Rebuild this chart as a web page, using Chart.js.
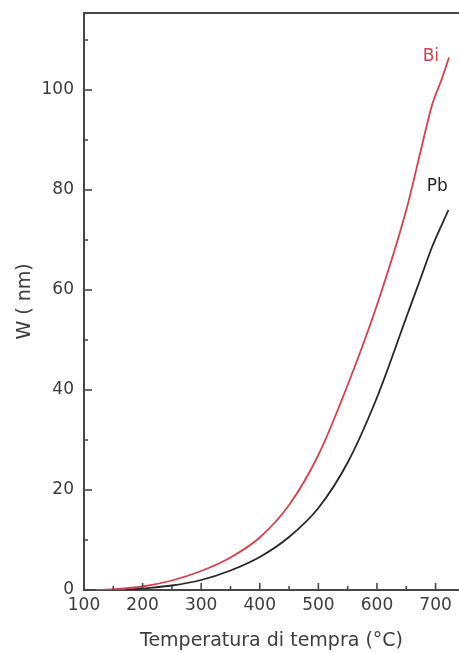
<!DOCTYPE html>
<html><head><meta charset="utf-8">
<script src="https://cdn.jsdelivr.net/npm/chart.js@4/dist/chart.umd.min.js"></script>
<style>html,body{margin:0;padding:0;background:#fff;} canvas{display:block;}</style>
</head><body>
<canvas id="c" width="459" height="653"></canvas>
<script>
const biTemps  = [120, 150, 200, 250, 300, 350, 400, 450, 500, 550, 600, 650, 675, 694, 710, 723];
const biWidths = [0, 0.15, 0.7, 1.9, 3.8, 6.5, 10.5, 17, 27, 41, 57, 76, 88, 97, 102, 106.5];
const pbTemps  = [170, 200, 250, 300, 350, 400, 450, 500, 550, 600, 650, 675, 694, 722];
const pbWidths = [0, 0.3, 0.9, 2.0, 3.9, 6.6, 10.6, 16.4, 25.5, 38.5, 54.5, 62.5, 68.6, 76];
const xMajorTicks = [100, 200, 300, 400, 500, 600, 700];
const xMinorTicks = [150, 250, 350, 450, 550, 650];
const yMajorTicks = [0, 20, 40, 60, 80, 100];
const yMinorTicks = [10, 30, 50, 70, 90, 110];
const seriesNames = ['Bi', 'Pb'];
const xTitle = 'Temperatura di tempra (°C)';
const yTitle = 'W ( nm)';

const FONT = 'DejaVu Sans';
const TEXT = '#3c3c3c';
const AXIS = '#474747';
const RED = '#d8404c';
const BLACK = '#262626';

const toPts = (xs, ys) => xs.map((x, i) => ({x, y: ys[i]}));

const decor = {
  id: 'decor',
  afterDraw(chart) {
    const {ctx, chartArea: a, scales: {x, y}} = chart;
    ctx.save();
    ctx.strokeStyle = AXIS;
    ctx.lineWidth = 2;
    ctx.beginPath(); ctx.moveTo(a.left - 1, a.top); ctx.lineTo(a.right, a.top); ctx.stroke();
    ctx.lineWidth = 1.6;
    const tick = (v, len, horiz) => {
      ctx.beginPath();
      if (horiz) { const p = x.getPixelForValue(v); ctx.moveTo(p, a.bottom); ctx.lineTo(p, a.bottom - len); }
      else { const p = y.getPixelForValue(v); ctx.moveTo(a.left, p); ctx.lineTo(a.left + len, p); }
      ctx.stroke();
    };
    xMajorTicks.forEach(v => tick(v, 7, true));
    xMinorTicks.forEach(v => tick(v, 4, true));
    yMajorTicks.forEach(v => tick(v, 8, false));
    yMinorTicks.forEach(v => tick(v, 4, false));
    ctx.font = '17px "' + FONT + '"';
    ctx.textAlign = 'center'; ctx.textBaseline = 'middle';
    ctx.fillStyle = RED;
    ctx.fillText(seriesNames[0], x.getPixelForValue(692), y.getPixelForValue(106.6));
    ctx.fillStyle = BLACK;
    ctx.fillText(seriesNames[1], x.getPixelForValue(703), y.getPixelForValue(80.6));
    ctx.restore();
  }
};

new Chart(document.getElementById('c'), {
  type: 'line',
  data: {
    datasets: [
      {label: seriesNames[0], data: toPts(biTemps, biWidths), borderColor: RED, borderWidth: 1.8,
       pointRadius: 0, cubicInterpolationMode: 'monotone', fill: false},
      {label: seriesNames[1], data: toPts(pbTemps, pbWidths), borderColor: BLACK, borderWidth: 1.8,
       pointRadius: 0, cubicInterpolationMode: 'monotone', fill: false}
    ]
  },
  options: {
    responsive: false,
    animation: false,
    events: [],
    layout: {padding: {top: 13, right: 0, left: 0, bottom: 0}},
    plugins: {legend: {display: false}, tooltip: {enabled: false}},
    scales: {
      x: {
        type: 'linear', min: 100, max: 740,
        afterBuildTicks: s => { s.ticks = xMajorTicks.map(v => ({value: v})); },
        afterFit: s => { s.height = 63; s.paddingLeft = 0; s.paddingRight = 0; },
        grid: {display: false, drawTicks: false},
        border: {display: true, color: AXIS, width: 2},
        ticks: {color: TEXT, font: {family: FONT, size: 17}, padding: 5, maxRotation: 0, autoSkip: false},
        title: {display: true, text: xTitle, color: TEXT, font: {family: FONT, size: 19}, padding: {top: 0, bottom: 1}}
      },
      y: {
        type: 'linear', min: 0, max: 115.4,
        afterBuildTicks: s => { s.ticks = yMajorTicks.map(v => ({value: v})); },
        afterFit: s => { s.width = 84; s.paddingTop = 0; s.paddingBottom = 0; },
        grid: {display: false, drawTicks: false},
        border: {display: true, color: AXIS, width: 2},
        ticks: {color: TEXT, font: {family: FONT, size: 17}, padding: 10},
        title: {display: true, text: yTitle, color: TEXT, font: {family: FONT, size: 19}, padding: {top: 14, bottom: 0}}
      }
    }
  },
  plugins: [decor]
});
</script>
</body></html>
